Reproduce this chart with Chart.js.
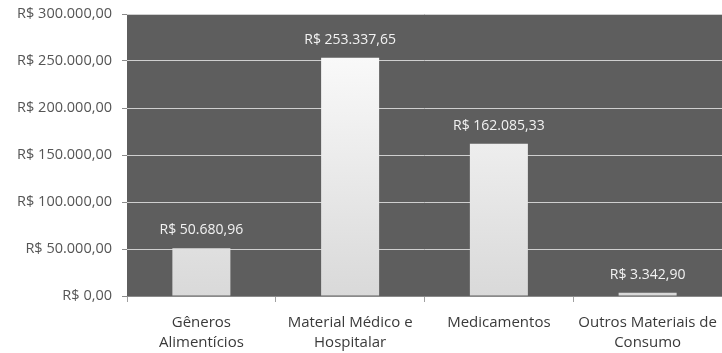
<!DOCTYPE html>
<html>
<head>
<meta charset="utf-8">
<script src="https://cdn.jsdelivr.net/npm/chart.js@4"></script>
<style>
html,body{margin:0;padding:0;background:#fff;}
#wrap{width:722px;height:353px;position:relative;}
</style>
</head>
<body>
<div id="wrap"><canvas id="c" width="722" height="353"></canvas></div>
<script>
const categories = [["Gêneros","Alimentícios"],["Material Médico e","Hospitalar"],["Medicamentos"],["Outros Materiais de","Consumo"]];
const values = [50680.96, 253337.65, 162085.33, 3342.90];
const valueLabels = ["R$ 50.680,96","R$ 253.337,65","R$ 162.085,33","R$ 3.342,90"];
const yTickLabels = ["R$ 0,00","R$ 50.000,00","R$ 100.000,00","R$ 150.000,00","R$ 200.000,00","R$ 250.000,00","R$ 300.000,00"];

const FONT = "'Open Sans', 'Noto Sans', sans-serif";

const bgPlugin = {
  id:'bg',
  beforeDraw(chart){
    const {ctx, chartArea:a} = chart;
    ctx.save();
    ctx.fillStyle = '#5e5e5e';
    ctx.fillRect(a.left, a.top, a.right-a.left, a.bottom-a.top);
    ctx.restore();
  }
};
const labelPlugin = {
  id:'vlabels',
  afterDatasetsDraw(chart){
    const {ctx} = chart;
    const meta = chart.getDatasetMeta(0);
    ctx.save();
    ctx.font = "14px " + FONT;
    ctx.fillStyle = '#f2f2f2';
    ctx.textAlign = 'center';
    ctx.textBaseline = 'middle';
    meta.data.forEach((bar,i)=>{
      ctx.fillText(valueLabels[i], bar.x, bar.y - 18);
    });
    ctx.restore();
  }
};

new Chart(document.getElementById('c'), {
  type:'bar',
  data:{
    labels: categories,
    datasets:[{
      data: values,
      backgroundColor(ctx){
        const ch = ctx.chart, a = ch.chartArea;
        if(!a) return '#eee';
        const g = ch.ctx.createLinearGradient(0, a.top, 0, a.bottom);
        g.addColorStop(0,'#ffffff');
        g.addColorStop(1,'#d9d9d9');
        return g;
      },
      borderWidth:0,
      categoryPercentage:1,
      barPercentage:0.39
    }]
  },
  options:{
    responsive:false,
    animation:false,
    layout:{padding:{top:14,right:0,left:0,bottom:0}},
    plugins:{legend:{display:false},tooltip:{enabled:false}},
    scales:{
      x:{
        grid:{display:true,drawOnChartArea:false,offset:true,tickLength:6,color:'#a0a0a0'},
        border:{display:true,color:'#8a8a8a'},
        ticks:{color:'#3a3a3a',font:{family:FONT,size:15,lineHeight:1.3},padding:11,maxRotation:0,autoSkip:false},
        afterFit(s){ s.height = 57; s.paddingLeft = 0; s.paddingRight = 0; }
      },
      y:{
        min:0,max:300000,
        ticks:{stepSize:50000,color:'#555555',font:{family:FONT,size:14.5},padding:10,
          callback:(v,i)=>yTickLabels[i]},
        grid:{color:'#cfcfcf',tickColor:'#8a8a8a',tickLength:5,lineWidth:1},
        border:{display:false},
        afterFit(s){ s.width = 127; s.paddingTop = 0; s.paddingBottom = 0; }
      }
    }
  },
  plugins:[bgPlugin,labelPlugin]
});
</script>
</body>
</html>
